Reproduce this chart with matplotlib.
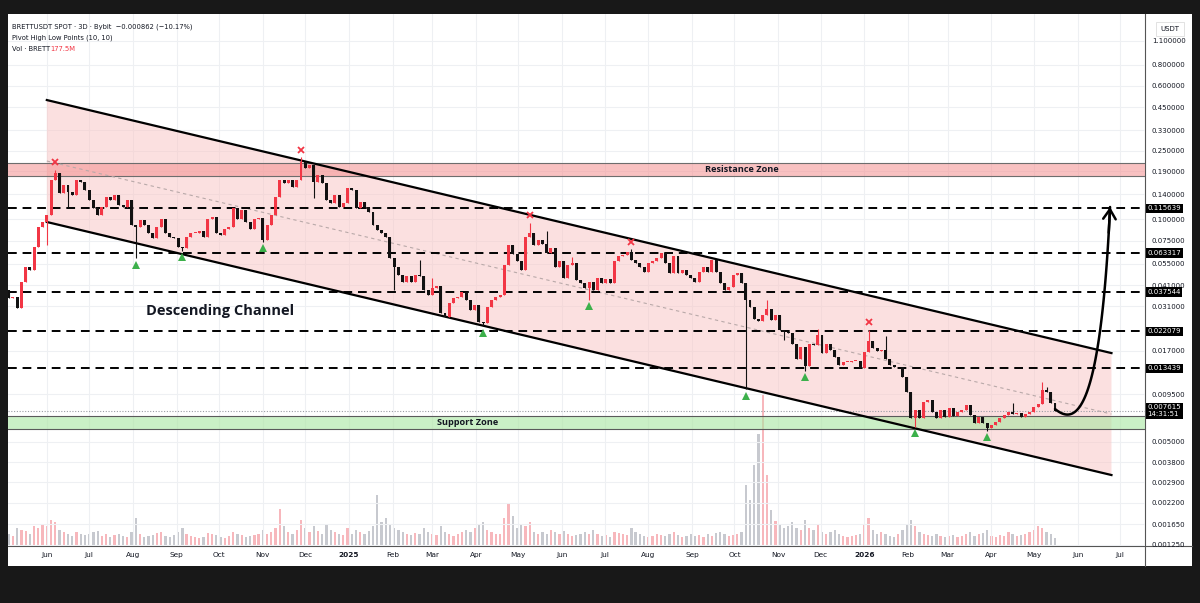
import matplotlib
matplotlib.use('Agg')
import matplotlib.pyplot as plt
import matplotlib.dates as mdates
from matplotlib.patches import Rectangle, Polygon
from matplotlib.lines import Line2D
from matplotlib.ticker import FixedLocator, NullLocator
from matplotlib.transforms import blended_transform_factory
import numpy as np
import pandas as pd

plt.rcParams['font.family'] = ['DejaVu Sans']

# ---- data (3D candles, BRETTUSDT) ----
start = '2024-05-05'
first_open = 0.0385
closes = [
    0.0346, 0.0352, 0.0301, 0.0431, 0.0527, 0.0504, 0.0690, 0.0900, 0.0963, 0.1063,
    0.1692, 0.1857, 0.1416, 0.1582, 0.1445, 0.1383, 0.1692, 0.1654, 0.1479, 0.1293,
    0.1156, 0.1057, 0.1181, 0.1351, 0.1293, 0.1383, 0.1209, 0.1181, 0.1293, 0.0924,
    0.0900, 0.0988, 0.0924, 0.0826, 0.0772, 0.0900, 0.1005, 0.0826, 0.0789, 0.0772,
    0.0690, 0.0675, 0.0789, 0.0826, 0.0834, 0.0854, 0.0789, 0.1005, 0.1028, 0.0826,
    0.0807, 0.0881, 0.0900, 0.1156, 0.1005, 0.1130, 0.0963, 0.0881, 0.1005, 0.1015,
    0.0755, 0.0924, 0.1057, 0.1351, 0.1692, 0.1617, 0.1692, 0.1538, 0.1692, 0.2163,
    0.1977, 0.2070, 0.1654, 0.1809, 0.1617, 0.1293, 0.1236, 0.1383, 0.1181, 0.1236,
    0.1513, 0.1479, 0.1156, 0.1264, 0.1181, 0.1105, 0.0924, 0.0864, 0.0826, 0.0789,
    0.0589, 0.0525, 0.0472, 0.0431, 0.0465, 0.0431, 0.0472, 0.0465, 0.0385, 0.0360,
    0.0394, 0.0408, 0.0281, 0.0269, 0.0322, 0.0344, 0.0352, 0.0376, 0.0337, 0.0294,
    0.0315, 0.0251, 0.0246, 0.0308, 0.0337, 0.0352, 0.0360, 0.0539, 0.0706, 0.0625,
    0.0569, 0.0504, 0.0789, 0.0826, 0.0706, 0.0755, 0.0716, 0.0636, 0.0675, 0.0527,
    0.0569, 0.0451, 0.0539, 0.0552, 0.0441, 0.0422, 0.0394, 0.0431, 0.0385, 0.0451,
    0.0422, 0.0445, 0.0422, 0.0569, 0.0607, 0.0617, 0.0645, 0.0577, 0.0552, 0.0527,
    0.0494, 0.0552, 0.0569, 0.0589, 0.0636, 0.0552, 0.0483, 0.0607, 0.0483, 0.0504,
    0.0472, 0.0451, 0.0431, 0.0494, 0.0527, 0.0494, 0.0577, 0.0494, 0.0422, 0.0385,
    0.0404, 0.0472, 0.0483, 0.0422, 0.0337, 0.0308, 0.0260, 0.0255, 0.0275, 0.0298,
    0.0257, 0.0275, 0.0225, 0.0219, 0.0216, 0.0187, 0.0153, 0.0180, 0.0138, 0.0187,
    0.0184, 0.0210, 0.0165, 0.0187, 0.0172, 0.0156, 0.01405, 0.0146, 0.0147, 0.0148,
    0.0149, 0.0135, 0.0168, 0.0193, 0.0176, 0.0170, 0.0173, 0.0153, 0.01405, 0.0136,
    0.0137, 0.0120, 0.00977, 0.00686, 0.00767, 0.00686, 0.00859, 0.00878, 0.00750, 0.00686,
    0.00767, 0.00703, 0.00785, 0.00710, 0.00750, 0.00767, 0.00821, 0.00718, 0.00642, 0.00696,
    0.00642, 0.00600, 0.00627, 0.00656, 0.00686, 0.00718, 0.00750, 0.00728, 0.00735, 0.00703,
    0.00728, 0.00750, 0.00802, 0.00832, 0.01004, 0.00980, 0.00848, 0.007615,
]
volumes = [
    12, 10, 18, 16, 15, 12, 20, 18, 22, 20, 26, 24,
    16, 14, 12, 10, 14, 12, 11, 12, 14, 15, 10, 12, 9, 11, 12, 10, 9, 14,
    28,
    12, 9, 10, 11, 13, 14, 10, 9, 11, 14, 18, 12, 10, 9, 8, 9, 13, 12, 11, 9,
    8, 10, 14, 12, 11, 9, 10, 11, 12,
    16,
    12, 14, 18, 36, 20, 14, 12, 16,
    26, 18, 14, 20, 15, 12, 22, 16, 14, 12,
    11,
    18, 12, 16, 14, 12, 15, 20, 50, 24, 28, 22, 18,
    16, 14, 12, 11, 13, 12, 18, 14, 12, 11, 20, 14, 12, 10, 12, 14, 16, 14, 18, 22,
    24,
    16, 14, 12, 12, 28, 42, 30, 18, 22, 20, 24,
    14, 12, 14, 12, 16, 14, 12, 15, 12, 10, 11, 12, 14, 12, 16, 12, 10, 11, 9, 14,
    13, 12, 11, 18, 14, 12,
    10, 9, 10, 12, 11, 10, 12, 14, 11, 9, 10, 12, 10, 11, 9, 12, 10, 13, 14, 12,
    10, 11, 12, 14,
    60, 45, 80, 110, 150, 70, 35, 25,
    22, 18, 20, 24, 18, 16, 26, 18, 16, 22, 14, 12, 14, 16, 12, 10, 9, 10,
    11, 12, 22, 28, 16, 12, 14, 12, 10, 9, 12, 16, 22, 26, 20,
    14, 12, 11, 10, 12, 10, 9, 10, 11, 9, 10, 12, 14, 10, 12, 13, 16, 10, 9, 11,
    10, 14, 12, 10, 11, 12, 14, 16, 20, 18, 14, 12, 8,
]
# visible wick extremes (candle index -> price)
wick_high = {11: 0.1935, 69: 0.2296, 97: 0.0577, 100: 0.0451, 123: 0.0950, 127: 0.0851,
             133: 0.0603, 147: 0.0666, 179: 0.0339, 191: 0.0228, 203: 0.0225, 207: 0.0207,
             237: 0.00847, 244: 0.0112, 245: 0.0105}
wick_low = {9: 0.0706, 14: 0.118, 30: 0.0589, 41: 0.0652, 60: 0.0737, 72: 0.132,
            91: 0.0385, 112: 0.0236, 137: 0.0337, 174: 0.01013, 183: 0.0197, 188: 0.0130,
            214: 0.0061, 231: 0.00578}
pivot_high_idx = [11, 69, 123, 147, 203]
pivot_low_idx = [30, 41, 60, 112, 137, 174, 188, 214, 231]

# drawings
channel_dates = ['2024-06-01', '2026-06-25']
channel_upper = [0.496, 0.0165]
channel_lower = [0.0962, 0.0032]
resistance_zone = (0.1793, 0.2118)
support_zone = (0.00592, 0.00708)
levels = [0.115639, 0.063317, 0.037544, 0.022079, 0.013439]
last_price = 0.007615
price_ticks = [1.1, 0.8, 0.6, 0.45, 0.33, 0.25, 0.19, 0.14, 0.1, 0.075, 0.055, 0.041,
               0.031, 0.017, 0.0095, 0.005, 0.0038, 0.0029, 0.0022, 0.00165, 0.00125]
arrow_dates = ['2026-05-16', '2026-05-30', '2026-06-17', '2026-06-24']
arrow_prices = [0.00778, 0.00627, 0.00671, 0.1177]

assert len(closes) == len(volumes)

dates = pd.date_range(start, periods=len(closes), freq='3D')
opens = [first_open] + closes[:-1]
highs = [wick_high.get(i, max(o, c)) for i, (o, c) in enumerate(zip(opens, closes))]
lows = [wick_low.get(i, min(o, c)) for i, (o, c) in enumerate(zip(opens, closes))]
up = [c >= o for o, c in zip(opens, closes)]

W, H = 1200, 603
def fx(px): return px / W
def fy(py): return 1 - py / H

fig = plt.figure(figsize=(12, 6.03), dpi=100, facecolor='#181818')
fig.patches.append(Rectangle((fx(8), fy(566)), fx(1192) - fx(8), fy(14) - fy(566),
                             transform=fig.transFigure, fc='white', ec='none', zorder=0))

rect = [fx(8), fy(546), fx(1145) - fx(8), fy(14) - fy(546)]
ax_vol = fig.add_axes(rect)
ax = fig.add_axes(rect, sharex=ax_vol)
ax_vol.set_zorder(1)
ax.set_zorder(2)
ax.patch.set_visible(False)
ax_vol.axis('off')

xmin, xmax = pd.Timestamp('2024-05-04 12:00'), pd.Timestamp('2026-07-18 18:00')
ax.set_xlim(xmin, xmax)
ax.set_yscale('log')
ax.set_ylim(0.001232, 1.578)

# volume
vcol = ['#f6a5ab' if u else '#b9bcc4' for u in up]
ax_vol.bar(dates, volumes, width=1.6, color=vcol, alpha=0.8)
ax_vol.set_ylim(0, max(volumes) * 531 / 152)

# grid
ax.yaxis.set_major_locator(FixedLocator(price_ticks))
ax.yaxis.set_minor_locator(NullLocator())
months = pd.date_range('2024-06-01', '2026-07-01', freq='MS')
ax.set_xticks(months)
ax.set_xticklabels([m.strftime('%Y') if m.month == 1 else m.strftime('%b') for m in months])
for lab, m in zip(ax.get_xticklabels(), months):
    if m.month == 1:
        lab.set_fontweight('bold')
ax.grid(True, color='#eef0f3', lw=0.8, zorder=0)
ax.set_axisbelow(True)

# channel
cd = mdates.date2num(pd.to_datetime(channel_dates))
poly = Polygon([(cd[0], channel_upper[0]), (cd[1], channel_upper[1]),
                (cd[1], channel_lower[1]), (cd[0], channel_lower[0])],
               closed=True, fc='#f9c3c3', ec='none', alpha=0.5, zorder=1)
ax.add_patch(poly)
ax.plot(cd, channel_upper, color='black', lw=1.6, zorder=3)
ax.plot(cd, channel_lower, color='black', lw=1.6, zorder=3)
mid = [np.sqrt(u * l) for u, l in zip(channel_upper, channel_lower)]
ax.plot(cd, mid, color='#b9a9a9', lw=0.8, ls=(0, (3, 3)), zorder=2)

# zones
ax.axhspan(*resistance_zone, fc='#f48f8f', alpha=0.55, ec='none', zorder=1.5)
for v in resistance_zone:
    ax.axhline(v, color='#6d6d6d', lw=0.8, zorder=1.6)
ax.axhspan(*support_zone, fc='#a8e6a0', alpha=0.6, ec='none', zorder=1.5)
for v in support_zone:
    ax.axhline(v, color='#5a5a5a', lw=0.8, zorder=1.6)
ax.text(pd.Timestamp('2025-10-06'), np.sqrt(np.prod(resistance_zone)), 'Resistance Zone',
        ha='center', va='center', fontsize=6.6, fontweight='bold', color='#131722',
        family='Open Sans', zorder=5)
ax.text(pd.Timestamp('2025-03-26'), np.sqrt(np.prod(support_zone)), 'Support Zone',
        ha='center', va='center', fontsize=6.6, fontweight='bold', color='#131722',
        family='Open Sans', zorder=5)
ax.text(pd.Timestamp('2024-10-02'), 0.029, 'Descending Channel', ha='center', va='center',
        fontsize=10.5, fontweight='bold', color='#131722', family='Open Sans', zorder=5)

# levels
for lv in levels:
    ax.axhline(lv, color='black', lw=1.4, ls=(0, (4.5, 3)), zorder=2.5)
ax.axhline(last_price, color='#9a9ca4', lw=0.8, ls=(0, (1, 1.5)), zorder=2.5)

# candles
dnum = mdates.date2num(dates)
ccol = ['#f23645' if u else '#111111' for u in up]
ax.vlines(dnum, lows, highs, colors=ccol, lw=0.8, zorder=4)
body_lo = [min(o, c) for o, c in zip(opens, closes)]
body_hi = [max(max(o, c), min(o, c) * 1.012) for o, c in zip(opens, closes)]
ax.bar(dnum, [h - l for h, l in zip(body_hi, body_lo)], bottom=body_lo, width=2.1,
       color=ccol, zorder=4.5)

# pivots
for i in pivot_high_idx:
    ax.plot(dnum[i], highs[i] * 1.11, marker='x', color='#f23645', ms=4, mew=1.3, zorder=6)
for i in pivot_low_idx:
    ax.plot(dnum[i], lows[i] / 1.09, marker='^', color='#3cb04b', ms=5.5, mew=0, zorder=6)

# projection arrow (cubic bezier in date / log-price space)
ad = mdates.date2num(pd.to_datetime(arrow_dates))
al = np.log10(arrow_prices)
t = np.linspace(0, 1, 120)
bx = ((1 - t) ** 3 * ad[0] + 3 * (1 - t) ** 2 * t * ad[1] + 3 * (1 - t) * t ** 2 * ad[2]
      + t ** 3 * ad[3])
by = 10 ** ((1 - t) ** 3 * al[0] + 3 * (1 - t) ** 2 * t * al[1] + 3 * (1 - t) * t ** 2 * al[2]
            + t ** 3 * al[3])
ax.plot(bx, by, color='black', lw=1.8, zorder=7, solid_capstyle='round')
ax.annotate('', xy=(bx[-1], by[-1]), xytext=(bx[-6], by[-6]),
            arrowprops=dict(arrowstyle='->,head_length=0.7,head_width=0.45', lw=1.8,
                            color='black', shrinkA=0, shrinkB=0), zorder=7)

# axes styling
for s in ax.spines.values():
    s.set_visible(False)
ax.yaxis.tick_right()
ax.yaxis.set_major_formatter(plt.FuncFormatter(lambda v, p: f'{v:.6f}'))
ax.tick_params(axis='y', length=0, pad=5, labelsize=5, labelcolor='#131722')
ax.tick_params(axis='x', length=0, pad=4, labelsize=5.3, labelcolor='#131722')

tr = blended_transform_factory(ax.transAxes, ax.transData)
for lv in levels:
    ax.text(1.002, lv, f'{lv:.6f}', transform=tr, fontsize=5, color='white', va='center',
            ha='left', clip_on=False, zorder=10,
            bbox=dict(boxstyle='square,pad=0.25', fc='black', ec='none'))
ax.text(1.002, last_price, f'{last_price:.6f}\n14:31:51', transform=tr, fontsize=5,
        color='white', va='center', ha='left', clip_on=False, zorder=10, linespacing=1.1,
        bbox=dict(boxstyle='square,pad=0.25', fc='black', ec='none'))

# separators and axis header
fig.add_artist(Line2D([fx(8), fx(1192)], [fy(546), fy(546)], color='#555555', lw=0.8))
fig.add_artist(Line2D([fx(1145), fx(1145)], [fy(14), fy(566)], color='#555555', lw=0.8))
fig.text(fx(1170), fy(29), 'USDT', ha='center', va='center', fontsize=5, color='#131722',
         zorder=20, bbox=dict(boxstyle='square,pad=0.6', fc='white', ec='#dddddd', lw=0.6))

# legend header
fig.text(fx(12), fy(27), 'BRETTUSDT SPOT · 3D · Bybit  \u22120.000862 (\u221210.17%)',
         fontsize=4.9, color='#131722', va='center')
fig.text(fx(12), fy(38), 'Pivot High Low Points (10, 10)', fontsize=4.9, color='#131722',
         va='center')
fig.text(fx(12), fy(49), 'Vol · BRETT', fontsize=4.9, color='#131722', va='center')
fig.text(fx(50), fy(49), '177.5M', fontsize=4.9, color='#f23645', va='center')

fig.savefig('out.png', dpi=100, facecolor=fig.get_facecolor())
